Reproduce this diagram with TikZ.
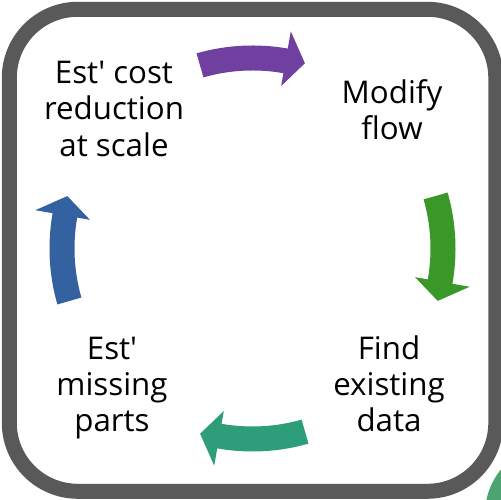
\documentclass[tikz,border=0pt]{standalone}
\usepackage{fontspec}
\setmainfont{Open Sans}
\definecolor{frameGray}{RGB}{89,89,89}
\definecolor{cycPurple}{RGB}{112,64,160}
\definecolor{cycGreen}{RGB}{58,152,40}
\definecolor{cycTeal}{RGB}{46,157,122}
\definecolor{cycBlue}{RGB}{52,98,160}
\definecolor{cornerGreen}{RGB}{78,163,114}

\begin{document}
\begin{tikzpicture}[frame/.style={draw=frameGray, line width=0.3cm, rounded corners=1.37cm},stagetext/.style={font=\fontsize{17.8}{20.6}\selectfont, align=center, text=black, inner sep=0pt},cycarrow/.style={shift={(5.05,5.03)}}]
\useasboundingbox (0,0) rectangle (10.02,10);
\fill[cornerGreen] (11.1,-0.28) circle (1.4cm);
\draw[frame] (0.186,0.174) rectangle (9.916,9.814);
\foreach \a/\c in {90/cycPurple,0/cycGreen,-90/cycTeal,180/cycBlue} {\fill[\c, cycarrow] ({\a+16}:4.06) arc[start angle=\a+16, end angle=\a-10, radius=4.06] -- ({\a-10}:4.41) -- ({\a-15.8}:3.85) -- ({\a-10}:3.30) -- ({\a-10}:3.56) arc[start angle=\a-10, end angle=\a+16, radius=3.56] -- cycle;}
\node[stagetext] (cost) at (2.28,7.82) {Est\textquotesingle{} cost\\reduction\\at scale};
\node[stagetext] (modify) at (7.84,7.81) {Modify\\flow};
\node[stagetext] (find) at (7.78,2.33) {Find\\existing\\data};
\node[stagetext] (missing) at (2.24,2.24) {Est\textquotesingle\\missing\\parts};
\end{tikzpicture}
\end{document}
